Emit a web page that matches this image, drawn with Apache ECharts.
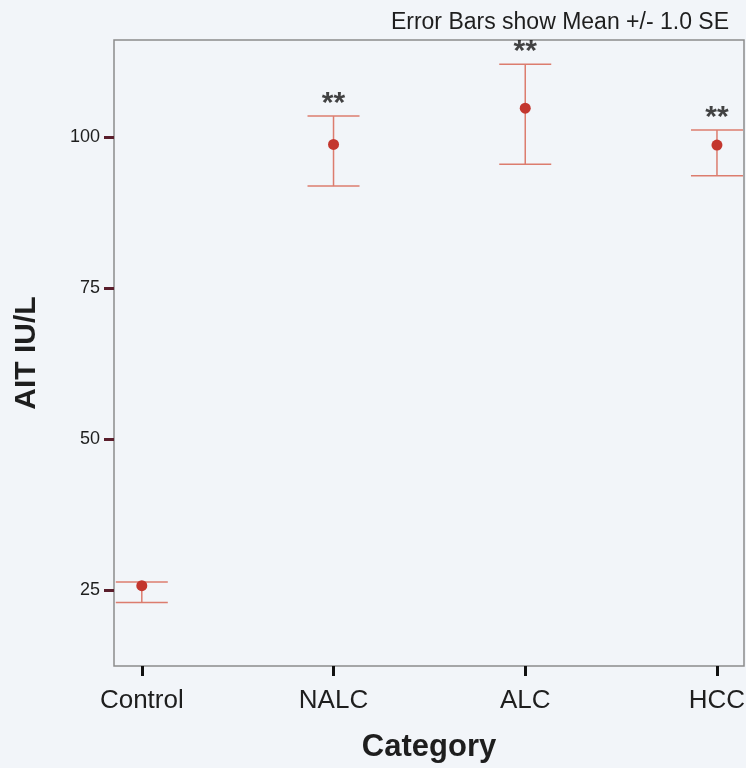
<!DOCTYPE html>
<html>
<head>
<meta charset="utf-8">
<style>
  html, body { margin: 0; padding: 0; background: #f2f5f9; }
  #chart { width: 746px; height: 768px; }
</style>
<script src="https://cdn.jsdelivr.net/npm/echarts@6/dist/echarts.min.js"></script>
</head>
<body>
<div id="chart"></div>
<script>
// ALT (IU/L) by patient group: mean with +/- 1 SE error bars
const categories = ['Control', 'NALC', 'ALC', 'HCC'];
const means      = [25.7, 98.8, 104.8, 98.7];
const lowerSE    = [22.9, 91.9, 95.5, 93.6];
const upperSE    = [26.3, 103.5, 112.1, 101.2];
const significance = ['', '**', '**', '**'];
const yTicks = [25, 50, 75, 100];

const barData = categories.map((c, i) => [i, lowerSE[i], upperSE[i], means[i]]);
const starData = categories.map((c, i) => ({ value: [i, upperSE[i]], label: { formatter: significance[i] } }));

const textColor = '#1e1e1e';
const chart = echarts.init(document.getElementById('chart'));

chart.setOption({
  backgroundColor: '#f2f5f9',
  animation: false,
  title: {
    text: 'Error Bars show Mean +/- 1.0 SE',
    right: 12,
    top: 6,
    textStyle: { fontFamily: 'Liberation Sans', fontSize: 23, fontWeight: 'normal', color: textColor }
  },
  grid: {
    left: 114, right: 2, top: 40, bottom: 102,
    outerBoundsMode: 'none',
    containLabel: false,
    show: true, borderColor: '#8c8c8c', borderWidth: 1.5, backgroundColor: 'transparent'
  },
  xAxis: {
    type: 'value',
    min: -0.145,
    max: 3.141,
    name: 'Category',
    nameLocation: 'middle',
    nameGap: 66,
    nameTextStyle: { fontFamily: 'Liberation Sans', fontSize: 31, fontWeight: 'bold', color: textColor },
    axisLine: { show: false, onZero: false },
    splitLine: { show: false },
    axisTick: {
      show: true, length: 10, lineStyle: { color: '#111', width: 3 },
      customValues: [0, 1, 2, 3]
    },
    axisLabel: {
      customValues: [0, 1, 2, 3],
      formatter: v => categories[Math.round(v)],
      margin: 22,
      hideOverlap: false,
      fontFamily: 'Liberation Sans', fontSize: 26, color: textColor
    }
  },
  yAxis: {
    type: 'value',
    min: 12.4,
    max: 116.1,
    name: 'AIT IU/L',
    nameLocation: 'middle',
    nameGap: 72,
    nameRotate: 90,
    nameTextStyle: { fontFamily: 'Liberation Sans', fontSize: 30, fontWeight: 'bold', color: textColor },
    axisLine: { show: false, onZero: false },
    splitLine: { show: false },
    axisTick: {
      show: true, length: 10, lineStyle: { color: '#5a1e2c', width: 3 },
      customValues: yTicks
    },
    axisLabel: {
      customValues: yTicks,
      margin: 14,
      fontFamily: 'Liberation Sans', fontSize: 18, color: textColor
    }
  },
  series: [
    {
      type: 'custom',
      data: barData,
      clip: true,
      renderItem: function (params, api) {
        const x = api.value(0);
        const lo = api.coord([x, api.value(1)]);
        const hi = api.coord([x, api.value(2)]);
        const mid = api.coord([x, api.value(3)]);
        const capHalf = 26;
        const line = { stroke: '#dc7c6e', lineWidth: 1.5 };
        return {
          type: 'group',
          children: [
            { type: 'line', shape: { x1: lo[0], y1: lo[1], x2: hi[0], y2: hi[1] }, style: line },
            { type: 'line', shape: { x1: hi[0] - capHalf, y1: hi[1], x2: hi[0] + capHalf, y2: hi[1] }, style: line },
            { type: 'line', shape: { x1: lo[0] - capHalf, y1: lo[1], x2: lo[0] + capHalf, y2: lo[1] }, style: line },
            { type: 'circle', shape: { cx: mid[0], cy: mid[1], r: 5.5 }, style: { fill: '#c3362e' } }
          ]
        };
      }
    },
    {
      type: 'scatter',
      data: starData,
      symbolSize: 0,
      silent: true,
      label: {
        show: true,
        position: 'top',
        distance: -3,
        fontFamily: 'Liberation Sans', fontSize: 30, fontWeight: 'bold', color: '#151515'
      }
    }
  ]
});
</script>
</body>
</html>
